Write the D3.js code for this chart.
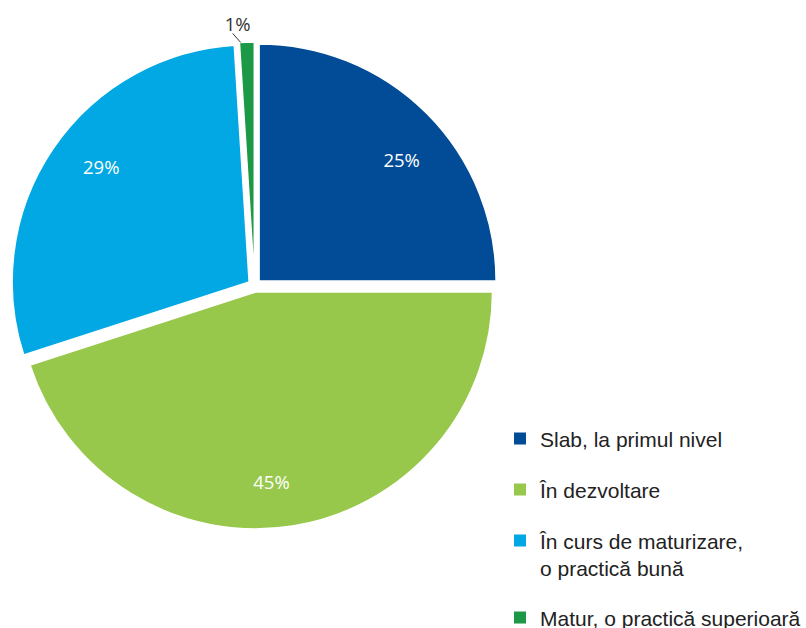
<!DOCTYPE html>
<html>
<head>
<meta charset="utf-8">
<script src="https://cdn.jsdelivr.net/npm/d3@7"></script>
<style>
  html, body { margin: 0; padding: 0; background: #fff; }
  svg { display: block; }
</style>
</head>
<body>
<svg id="chart" width="806" height="628"></svg>
<script>
// Maturity levels and their shares (percent)
const categories = [
  "Slab, la primul nivel",
  "În dezvoltare",
  "În curs de maturizare, o practică bună",
  "Matur, o practică superioară"
];
const legendLines = [
  ["Slab, la primul nivel"],
  ["În dezvoltare"],
  ["În curs de maturizare,", "o practică bună"],
  ["Matur, o practică superioară"]
];
const values = [25, 45, 29, 1];
const colors = ["#024C97", "#97C84B", "#01A8E4", "#1C9946"];

const svg = d3.select("#chart");
const cx = 254.5, cy = 285.5;
const radius = 237;
const explode = 6.5;

const pie = d3.pie().sort(null).value(d => d).startAngle(0).endAngle(2 * Math.PI);
const arcs = pie(values);
const arc = d3.arc().innerRadius(0).outerRadius(radius);

const mid = a => (a.startAngle + a.endAngle) / 2;
const dir = ang => [Math.sin(ang), -Math.cos(ang)];

const g = svg.append("g").attr("transform", `translate(${cx},${cy})`);

// Slices, each pushed slightly out along its bisector
const slices = g.selectAll("g.slice")
  .data(arcs)
  .enter().append("g")
  .attr("class", "slice")
  .attr("transform", d => {
    const [ux, uy] = dir(mid(d));
    return `translate(${ux * explode},${uy * explode})`;
  });

slices.append("path")
  .attr("d", arc)
  .attr("fill", (d, i) => colors[i])
  .attr("stroke", "#fff")
  .attr("stroke-width", 1.5)
  .attr("stroke-linejoin", "round");

// Percentage labels inside the larger slices
const labelR = 195;
const labelShift = 4 * Math.PI / 180;
g.selectAll("text.pct")
  .data(arcs.filter(d => d.data >= 5))
  .enter().append("text")
  .attr("class", "pct")
  .attr("x", d => dir(mid(d) + labelShift)[0] * labelR)
  .attr("y", d => dir(mid(d) + labelShift)[1] * labelR + 2)
  .attr("text-anchor", "middle")
  .attr("dominant-baseline", "central")
  .attr("font-family", "'Open Sans', sans-serif")
  .attr("font-size", 18.5)
  .attr("fill", "#fff")
  .text(d => d.data + "%");

// Small slice: label outside with a leader line
arcs.filter(d => d.data < 5).forEach(d => {
  const [ux, uy] = dir(mid(d));
  const ox = ux * explode, oy = uy * explode;
  const [sx, sy] = dir(mid(d) - 1.5 * Math.PI / 180);
  const x0 = ox + sx * radius, y0 = oy + sy * radius;
  const x1 = x0 - 8, y1 = y0 - 9;
  g.append("line")
    .attr("x1", x0).attr("y1", y0)
    .attr("x2", x1).attr("y2", y1)
    .attr("stroke", "#333")
    .attr("stroke-width", 1);
  g.append("text")
    .attr("x", x1 + 5)
    .attr("y", y1 - 10)
    .attr("text-anchor", "middle")
    .attr("dominant-baseline", "central")
    .attr("font-family", "'Open Sans', sans-serif")
    .attr("font-size", 18.5)
    .attr("fill", "#333")
    .text(d.data + "%");
});

// Legend
const legend = svg.append("g").attr("transform", "translate(514,0)");
const baselines = [447, 498, 549, 626];
const lineGap = 27;
legendLines.forEach((lines, i) => {
  const item = legend.append("g");
  item.append("rect")
    .attr("x", 0)
    .attr("y", baselines[i] - 14.5)
    .attr("width", 12)
    .attr("height", 12)
    .attr("fill", colors[i]);
  const t = item.append("text")
    .attr("x", 26)
    .attr("y", baselines[i])
    .attr("font-family", "'Liberation Sans', Arial, sans-serif")
    .attr("font-size", 21)
    .attr("fill", "#222");
  lines.forEach((ln, j) => {
    t.append("tspan")
      .attr("x", 26)
      .attr("dy", j === 0 ? 0 : lineGap)
      .text(ln);
  });
});
</script>
</body>
</html>
